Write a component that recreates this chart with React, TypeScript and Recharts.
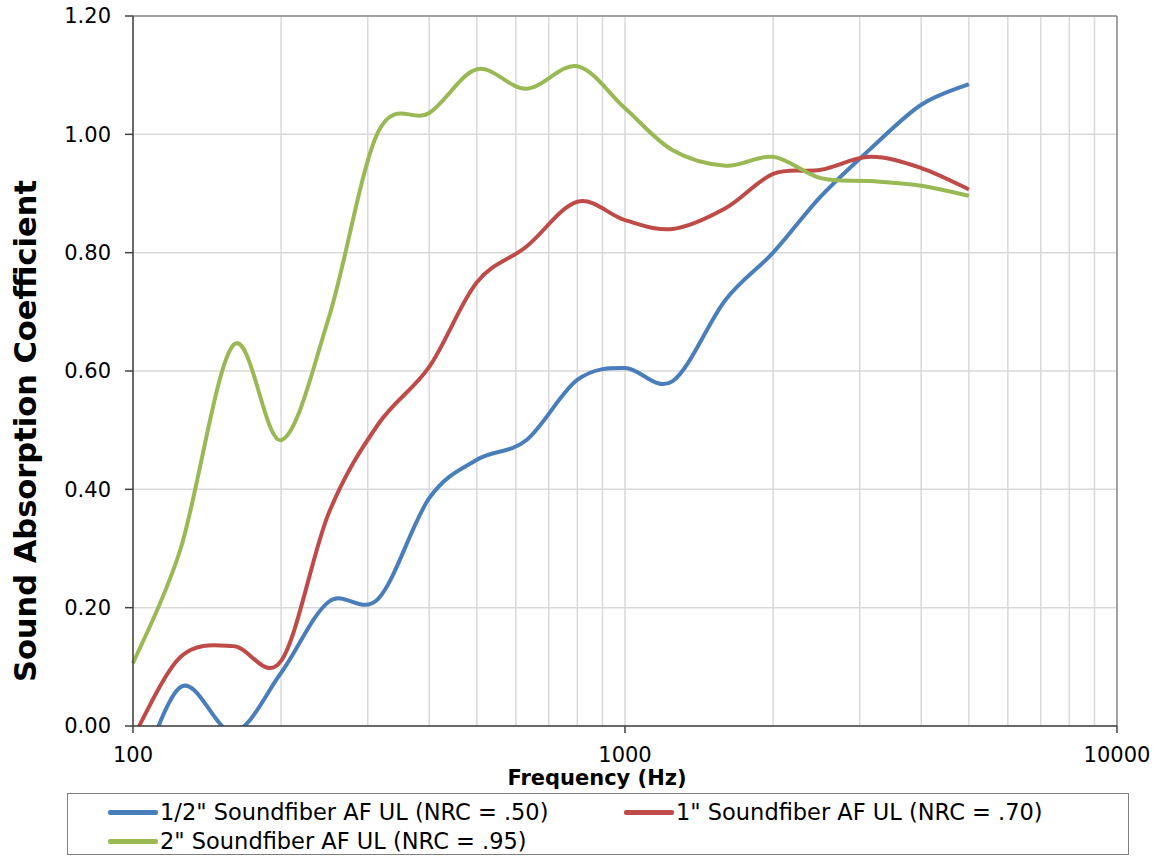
import * as React from "react"
import {
  CartesianGrid,
  Label,
  Line,
  LineChart,
  ReferenceLine,
  XAxis,
  YAxis,
} from "recharts"

const frequencies = [100, 125, 160, 200, 250, 315, 400, 500, 630, 800, 1000, 1250, 1600, 2000, 2500, 3150, 4000, 5000]
const halfInch = [-0.12, 0.066, -0.01, 0.09, 0.21, 0.215, 0.385, 0.45, 0.483, 0.585, 0.605, 0.583, 0.72, 0.8, 0.895, 0.975, 1.05, 1.085]
const oneInch = [-0.02, 0.117, 0.135, 0.11, 0.36, 0.51, 0.607, 0.75, 0.81, 0.886, 0.855, 0.84, 0.875, 0.933, 0.94, 0.962, 0.943, 0.907]
const twoInch = [0.106, 0.3, 0.644, 0.483, 0.69, 1.004, 1.036, 1.11, 1.077, 1.115, 1.044, 0.973, 0.947, 0.962, 0.926, 0.921, 0.913, 0.896]

const yTicks = [0, 0.2, 0.4, 0.6, 0.8, 1.0, 1.2]
const majorTicks = [100, 1000, 10000]
const gridTicks = [
  100, 200, 300, 400, 500, 600, 700, 800, 900,
  1000, 2000, 3000, 4000, 5000, 6000, 7000, 8000, 9000, 10000,
]

const series = [
  { key: "half", name: '1/2" Soundfiber AF UL (NRC = .50)', color: "#4a7ebb" },
  { key: "one", name: '1" Soundfiber AF UL (NRC = .70)', color: "#be4b48" },
  { key: "two", name: '2" Soundfiber AF UL (NRC = .95)', color: "#98b954" },
]

const data = frequencies.map((freq, i) => ({
  freq,
  half: halfInch[i],
  one: oneInch[i],
  two: twoInch[i],
}))

const FONT = '"DejaVu Sans", Verdana, sans-serif'

// excel-style smoothed line: bezier through every point, 1/6 tangents
function excelCurve(context: any) {
  let pts: number[][] = []
  return {
    areaStart() {},
    areaEnd() {},
    lineStart() {
      pts = []
    },
    point(x: number, y: number) {
      pts.push([+x, +y])
    },
    lineEnd() {
      if (!pts.length) return
      context.moveTo(pts[0][0], pts[0][1])
      for (let i = 0; i < pts.length - 1; i++) {
        const p0 = pts[i - 1] ?? pts[i]
        const p1 = pts[i]
        const p2 = pts[i + 1]
        const p3 = pts[i + 2] ?? p2
        context.bezierCurveTo(
          p1[0] + (p2[0] - p0[0]) / 6,
          p1[1] + (p2[1] - p0[1]) / 6,
          p2[0] - (p3[0] - p1[0]) / 6,
          p2[1] - (p3[1] - p1[1]) / 6,
          p2[0],
          p2[1],
        )
      }
    },
  }
}

function FreqTick({ x, y, payload }: any) {
  if (!majorTicks.includes(payload.value)) return <g />
  return (
    <g>
      <line x1={x} x2={x} y1={y} y2={y + 7} stroke="#404040" strokeWidth={1.5} />
      <text x={x} y={y + 36} textAnchor="middle" fontSize={21} fontFamily={FONT} fill="#000">
        {payload.value}
      </text>
    </g>
  )
}

function ChartLegend() {
  const pos = [
    { left: 40, top: 18 },
    { left: 556, top: 18 },
    { left: 40, top: 47 },
  ]
  return (
    <div
      style={{
        position: "absolute",
        left: 67,
        top: 793,
        width: 1062,
        height: 62,
        boxSizing: "border-box",
        border: "1px solid #7f7f7f",
        background: "#fff",
        fontFamily: FONT,
        fontSize: 22.5,
        color: "#000",
      }}
    >
      {series.map((s, i) => (
        <div
          key={s.key}
          style={{
            position: "absolute",
            left: pos[i].left,
            top: pos[i].top - 14,
            height: 28,
            display: "flex",
            alignItems: "center",
            whiteSpace: "nowrap",
          }}
        >
          <span style={{ width: 50, height: 5, background: s.color, marginRight: 2, borderRadius: 2 }} />
          <span>{s.name}</span>
        </div>
      ))}
    </div>
  )
}

export default function App() {
  return (
    <div style={{ position: "absolute", left: 0, top: 0, width: 1157, height: 857, background: "#fff" }}>
      <LineChart width={1157} height={857} data={data} margin={{ top: 16, right: 40, bottom: 0, left: 0 }}>
        <CartesianGrid stroke="#d9d9d9" strokeWidth={1.5} />
        <XAxis
          dataKey="freq"
          type="number"
          scale="log"
          domain={[100, 10000]}
          ticks={gridTicks}
          interval={0}
          height={131}
          tickSize={0}
          tickMargin={0}
          tickLine={false}
          tick={<FreqTick />}
          axisLine={{ stroke: "#404040", strokeWidth: 1.5 }}
        >
          <Label
            content={({ viewBox }: any) => (
              <text
                x={viewBox.x + viewBox.width / 2 - 28}
                y={viewBox.y + 59}
                textAnchor="middle"
                fontSize={21}
                fontWeight="bold"
                fontFamily={FONT}
                fill="#000"
              >
                Frequency (Hz)
              </text>
            )}
          />
        </XAxis>
        <YAxis
          type="number"
          domain={[0, 1.2]}
          ticks={yTicks}
          allowDataOverflow
          width={133}
          tickSize={8}
          tickMargin={14}
          tickFormatter={(v: number) => v.toFixed(2)}
          tick={{ fontSize: 21, fontFamily: FONT, fill: "#000" }}
          tickLine={{ stroke: "#404040", strokeWidth: 1.5 }}
          axisLine={{ stroke: "#404040", strokeWidth: 1.5 }}
        >
          <Label
            content={({ viewBox }: any) => {
              const cx = 25
              const cy = viewBox.y + viewBox.height / 2 + 60
              return (
                <text
                  x={cx}
                  y={cy}
                  transform={`rotate(-90 ${cx} ${cy})`}
                  textAnchor="middle"
                  dominantBaseline="central"
                  fontSize={30.5}
                  fontWeight="bold"
                  fontFamily={FONT}
                  fill="#000"
                >
                  Sound Absorption Coefficient
                </text>
              )
            }}
          />
        </YAxis>
        <ReferenceLine y={1.2} stroke="#8c8c8c" strokeWidth={1.5} />
        <ReferenceLine x={10000} stroke="#8c8c8c" strokeWidth={1.5} />
        {series.map((s) => (
          <Line
            key={s.key}
            dataKey={s.key}
            name={s.name}
            type={excelCurve as any}
            stroke={s.color}
            strokeWidth={4}
            dot={false}
            activeDot={false}
            isAnimationActive={false}
          />
        ))}
      </LineChart>
      <ChartLegend />
    </div>
  )
}
